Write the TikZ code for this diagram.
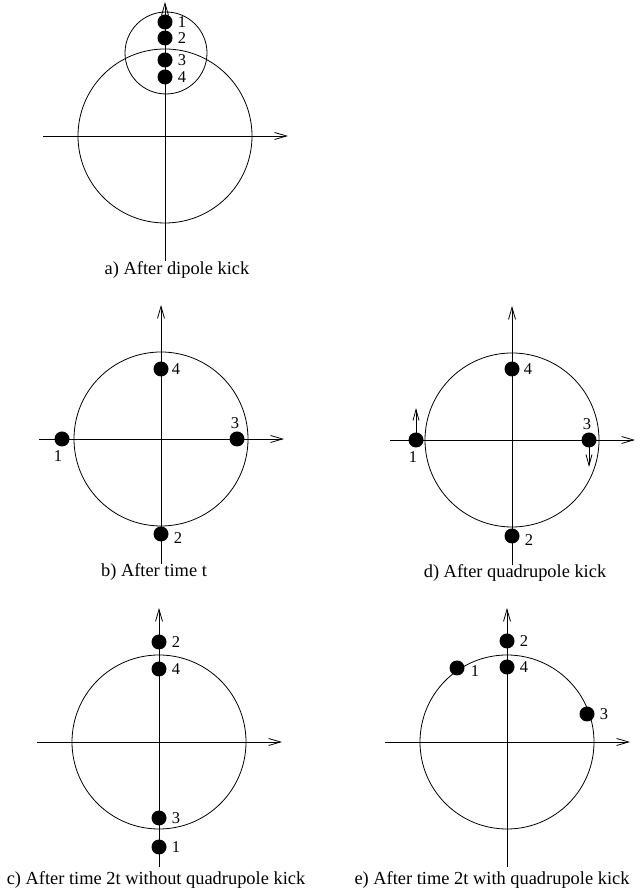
\documentclass[tikz,border=0pt]{standalone}
\usepackage{fontspec}
\setmainfont{Liberation Serif}
\usetikzlibrary{arrows.meta,positioning}

\begin{document}
\begin{tikzpicture}[x=1pt,y=1pt,line width=0.8pt,
  axis/.style={-{Straight Barb[length=12pt,width=7pt]}},
  kickarrow/.style={-{Straight Barb[length=11pt,width=6pt]}},
  bunch/.style={circle,fill=black,inner sep=0pt,minimum size=15pt},
  tag/.style={font=\fontsize{16.5}{18}\selectfont,inner sep=1.5pt},
  caption/.style={font=\fontsize{18.4}{20}\selectfont,anchor=base,inner sep=0pt}]
\useasboundingbox (0,0) rectangle (644,888);

% axes and orbit of each panel
\foreach \p/\ox/\oy in {a/165/752,b/161/449,d/512/448,c/159/146,e/507/146}{
  \coordinate (\p O) at (\ox,\oy);
  \coordinate (\p W) at (\ox-122,\oy);
  \coordinate (\p E) at (\ox+123,\oy);
  \coordinate (\p S) at (\ox,\oy-125);
  \coordinate (\p N) at (\ox,\oy+134);
  \draw[axis] (\p W) -- (\p E);
  \draw[axis] (\p S) -- (\p N);
  \draw (\p O) circle[radius=87];
}

% a) dipole kick
\begin{scope}[shift={(aO)}]
  \draw (1,83) circle[radius=41];
  \foreach \n/\y in {1/114,2/98,3/76,4/59}
    \node[bunch] (a\n) at (0,\y) {};
  \foreach \n in {1,...,4} \node[tag,right=3pt of a\n] (a\n t) {\n};
  \node[caption] (acap) at (12,-139) {a) After dipole kick};
\end{scope}

% b) after time t
\begin{scope}[shift={(bO)}]
  \node[bunch] (b1) at (-99,0) {};
  \node[bunch] (b2) at (0,-95) {};
  \node[bunch] (b3) at (76,0) {};
  \node[bunch] (b4) at (0,70) {};
  \node[tag,below=2pt of b1,xshift=-4pt] (b1t) {1};
  \node[tag,right=3pt of b2,yshift=-4pt] (b2t) {2};
  \node[tag,above=1pt of b3,xshift=-2pt] (b3t) {3};
  \node[tag,right=1pt of b4] (b4t) {4};
  \node[caption] (bcap) at (-7,-138) {b) After time t};
\end{scope}

% d) quadrupole kick
\begin{scope}[shift={(dO)}]
  \node[bunch] (d1) at (-96,0) {};
  \node[bunch] (d2) at (0,-96) {};
  \node[bunch] (d3) at (77,0) {};
  \node[bunch] (d4) at (0,71) {};
  \coordinate (d1up) at (-96,32);
  \coordinate (d3dn) at (77,-27);
  \draw[kickarrow] (d1.center) -- (d1up);
  \draw[kickarrow] (d3.center) -- (d3dn);
  \node[tag,below=2pt of d1,xshift=-3pt] (d1t) {1};
  \node[tag,right=3pt of d2,yshift=-4pt] (d2t) {2};
  \node[tag,above=1pt of d3,xshift=-2pt] (d3t) {3};
  \node[tag,right=2pt of d4] (d4t) {4};
  \node[caption] (dcap) at (3,-138) {d) After quadrupole kick};
\end{scope}

% c) after 2t, no quadrupole kick
\begin{scope}[shift={(cO)}]
  \foreach \n/\y in {1/-105,2/100,3/-76,4/73}
    \node[bunch] (c\n) at (0,\y) {};
  \foreach \n in {1,...,4} \node[tag,right=3pt of c\n] (c\n t) {\n};
  \node[caption] (ccap) at (-3,-143) {c) After time 2t without quadrupole kick};
\end{scope}

% e) after 2t, with quadrupole kick
\begin{scope}[shift={(eO)}]
  \node[bunch] (e1) at (-50,74) {};
  \node[bunch] (e2) at (0,101) {};
  \node[bunch] (e3) at (80,28) {};
  \node[bunch] (e4) at (0,75) {};
  \node[tag,right=4pt of e1,yshift=-3pt] (e1t) {1};
  \foreach \n in {2,3,4} \node[tag,right=3pt of e\n] (e\n t) {\n};
  \node[caption] (ecap) at (-15,-143) {e) After time 2t with quadrupole kick};
\end{scope}
\end{tikzpicture}
\end{document}
